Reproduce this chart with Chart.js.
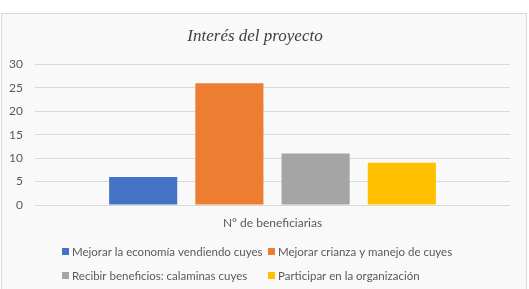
<!DOCTYPE html>
<html><head><meta charset="utf-8">
<script src="https://cdn.jsdelivr.net/npm/chart.js@4/dist/chart.umd.min.js"></script>
<style>html,body{margin:0;padding:0;background:#fff}#wrap{width:529px;height:289px;position:relative}</style>
</head><body><div id="wrap"><canvas id="c" width="529" height="289"></canvas></div>
<script>
const categories = ["N° de beneficiarias"];
const seriesNames = ["Mejorar la economía vendiendo cuyes","Mejorar crianza y manejo de cuyes","Recibir beneficios: calaminas cuyes","Participar en la organización"];
const seriesValues = [[6],[26],[11],[9]];
const seriesColors = ["#4472C4","#ED7D31","#A5A5A5","#FFC000"];
const yTicks = [0,5,10,15,20,25,30];
const titleText = "Interés del proyecto";

const FONT = "Lato, 'Open Sans', sans-serif";

const frame = {
  id:'frame',
  beforeDraw(chart){
    const ctx = chart.ctx;
    ctx.save();
    ctx.fillStyle = '#f9f9f9';
    ctx.fillRect(1,13,526,276);
    ctx.strokeStyle = '#d9d9d9';
    ctx.lineWidth = 1;
    ctx.strokeRect(1.5,13.5,525,280);
    ctx.restore();
  }
};

const customLegend = {
  id:'customLegend',
  afterDraw(chart){
    const ctx = chart.ctx;
    ctx.save();
    ctx.font = "11.5px " + FONT;
    ctx.textBaseline = 'middle';
    const cols = [62, 268];
    const rows = [252, 276];
    chart.data.datasets.forEach((ds,i)=>{
      const x = cols[i%2], y = rows[Math.floor(i/2)];
      ctx.fillStyle = ds.backgroundColor;
      ctx.fillRect(x, y-4, 7, 7);
      ctx.fillStyle = '#595959';
      ctx.fillText(ds.label, x+10, y);
    });
    ctx.restore();
  }
};

new Chart(document.getElementById('c'), {
  type:'bar',
  data:{
    labels: categories,
    datasets: seriesNames.map((n,i)=>({label:n, data:seriesValues[i], backgroundColor:seriesColors[i], categoryPercentage:0.726, barPercentage:0.79}))
  },
  options:{
    responsive:false,
    animation:false,
    layout:{padding:{left:0,right:19,top:0,bottom:0}},
    plugins:{
      legend:{display:false},
      tooltip:{enabled:false},
      title:{display:true,text:titleText,color:'#404040',font:{family:"'Liberation Serif', serif",size:17,style:'italic',weight:'normal'},padding:{top:26,bottom:18}}
    },
    scales:{
      x:{
        grid:{display:false,drawTicks:false},
        border:{display:false},
        ticks:{color:'#595959',font:{family:FONT,size:12},padding:11},
        afterFit(s){ s.height = 84; }
      },
      y:{
        min:0,max:30,
        afterBuildTicks(s){ s.ticks = yTicks.map(v=>({value:v})); },
        grid:{color:'#d9d9d9',drawTicks:false},
        border:{display:false},
        ticks:{color:'#595959',font:{family:FONT,size:12},padding:12},
        afterFit(s){ s.width = 35; }
      }
    }
  },
  plugins:[frame,customLegend]
});
</script></body></html>
